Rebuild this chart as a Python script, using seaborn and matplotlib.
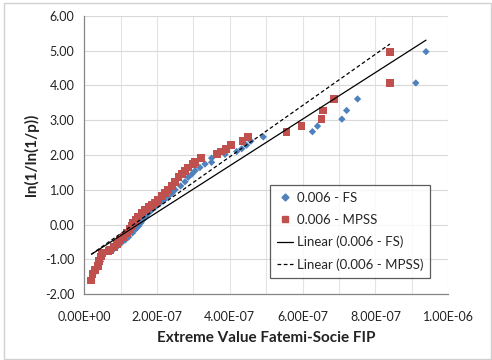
import numpy as np
import pandas as pd
import matplotlib
matplotlib.use("Agg")
import matplotlib.pyplot as plt
from matplotlib.ticker import MultipleLocator, FuncFormatter
from matplotlib.lines import Line2D
from matplotlib.patches import Rectangle
import seaborn as sns

# shared plotting positions ln(1/ln(1/p)), ascending
y_rank = [-1.61, -1.41, -1.30, -1.20, -1.06, -0.92, -0.81, -0.77, -0.72, -0.64,
          -0.55, -0.45, -0.36, -0.24, -0.13, -0.04, 0.05, 0.14, 0.23, 0.33,
          0.42, 0.50, 0.57, 0.63, 0.71, 0.81, 0.90, 1.00, 1.11, 1.23,
          1.36, 1.45, 1.55, 1.64, 1.74, 1.79, 1.91, 2.02, 2.10, 2.18,
          2.28, 2.40, 2.52, 2.67, 2.83, 3.03, 3.28, 3.61, 4.07, 4.97]

# extreme value FIP, in units of 1e-7
fip_mpss = [0.19, 0.23, 0.30, 0.37, 0.42, 0.46, 0.48, 0.67, 0.71, 0.81,
            0.90, 0.99, 1.08, 1.17, 1.26, 1.30, 1.35, 1.43, 1.49, 1.58,
            1.67, 1.77, 1.86, 1.95, 2.04, 2.13, 2.22, 2.31, 2.41, 2.50,
            2.59, 2.68, 2.77, 2.86, 2.98, 3.05, 3.20, 3.64, 3.77, 3.90,
            4.03, 4.35, 4.50, 5.56, 5.97, 6.52, 6.57, 6.86, 8.40, 8.40]
fip_fs = [0.21, 0.26, 0.33, 0.40, 0.45, 0.49, 0.52, 0.72, 0.80, 0.90,
          1.00, 1.12, 1.22, 1.33, 1.42, 1.50, 1.56, 1.62, 1.69, 1.77,
          1.86, 1.95, 2.02, 2.10, 2.20, 2.31, 2.41, 2.50, 2.65, 2.77,
          2.86, 2.96, 3.05, 3.18, 3.32, 3.50, 3.50, 3.87, 4.19, 4.33,
          4.46, 4.58, 4.92, 6.27, 6.41, 7.08, 7.21, 7.51, 9.11, 9.39]

# Excel linear trendlines (slope per 1e-7, intercept)
trend_fs = (0.670, -0.99)
trend_mpss = (0.737, -1.00)

blue = "#4F81BD"
red = "#C0504D"

sns.set_style("white")
plt.rcParams["font.family"] = ["Lato", "DejaVu Sans"]

fig = plt.figure(figsize=(4.92, 3.6), dpi=100)
ax = fig.add_axes([0.171, 0.183, 0.740, 0.773])

df_fs = pd.DataFrame({"x": np.array(fip_fs) * 1e-7, "y": y_rank})
df_mp = pd.DataFrame({"x": np.array(fip_mpss) * 1e-7, "y": y_rank})

sns.scatterplot(data=df_fs, x="x", y="y", ax=ax, marker="D", s=14,
                color=blue, edgecolor="none", zorder=3)
sns.scatterplot(data=df_mp, x="x", y="y", ax=ax, marker="s", s=32,
                color=red, edgecolor="none", zorder=4)

for xs, (m, b), ls in [(fip_fs, trend_fs, "-"), (fip_mpss, trend_mpss, (0, (3, 2)))]:
    xx = np.array([min(xs), max(xs)])
    ax.plot(xx * 1e-7, m * xx + b, color="black", lw=0.9, ls=ls, zorder=5)

ax.set_xlim(0, 1e-6)
ax.set_ylim(-2, 6)
ax.xaxis.set_major_locator(MultipleLocator(2e-7))
ax.xaxis.set_minor_locator(MultipleLocator(1e-7))
ax.yaxis.set_major_locator(MultipleLocator(1))
ax.xaxis.set_major_formatter(FuncFormatter(lambda v, p: "%.2E" % v))
ax.yaxis.set_major_formatter(FuncFormatter(lambda v, p: "%.2f" % v))

ax.grid(True, which="both", axis="x", color="#e3e3e3", lw=0.8)
ax.grid(True, which="major", axis="y", color="#d9d9d9", lw=0.8)
ax.set_axisbelow(True)
for s in ["top", "right"]:
    ax.spines[s].set_visible(False)
for s in ["left", "bottom"]:
    ax.spines[s].set_color("#868686")
    ax.spines[s].set_linewidth(0.9)
ax.tick_params(axis="both", which="major", direction="out", length=4,
               color="#868686", labelsize=9, labelcolor="#222222", pad=3)
ax.tick_params(axis="x", which="minor", length=0)
ax.tick_params(axis="x", pad=8)

ax.set_xlabel("Extreme Value Fatemi-Socie FIP", fontsize=11, fontweight="bold",
              color="#222222", labelpad=6)
ax.set_ylabel("ln(1/ln(1/p))", fontsize=11, fontweight="bold", color="#222222",
              labelpad=4)

handles = [
    Line2D([], [], marker="D", ls="none", color=blue, markersize=3.5),
    Line2D([], [], marker="s", ls="none", color=red, markersize=5),
    Line2D([], [], color="black", lw=0.9),
    Line2D([], [], color="black", lw=0.9, ls=(0, (3, 2))),
]
labels = ["0.006 - FS", "0.006 - MPSS", "Linear (0.006 - FS)", "Linear (0.006 - MPSS)"]
leg = ax.legend(handles, labels, loc="lower right", bbox_to_anchor=(0.951, 0.058),
                borderaxespad=0, fontsize=9.5, frameon=True, fancybox=False,
                handlelength=1.2, handletextpad=0.25, borderpad=0.55,
                labelspacing=0.75)
leg.get_frame().set_edgecolor("#333333")
leg.get_frame().set_linewidth(0.9)

fig.patches.append(Rectangle((0.008, 0.004), 0.99, 0.988, transform=fig.transFigure,
                             fill=False, edgecolor="#d0d0d0", lw=1.0))

fig.savefig("out.png", dpi=100)
